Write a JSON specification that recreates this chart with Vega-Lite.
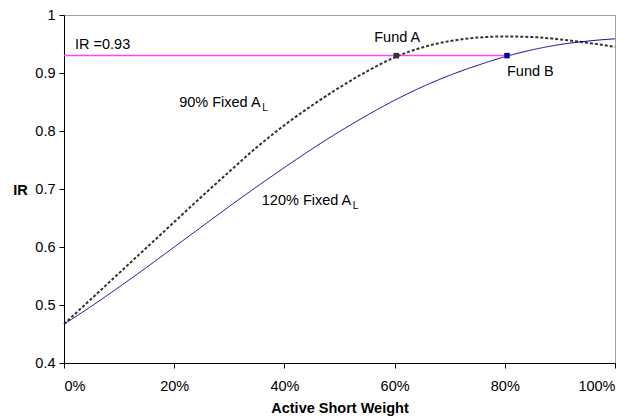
{
  "$schema": "https://vega.github.io/schema/vega-lite/v6.json",
  "autosize": "none",
  "width": 551,
  "height": 348,
  "padding": {"left": 64, "top": 15, "right": 19, "bottom": 54},
  "background": "white",
  "config": {
    "font": "Liberation Sans",
    "view": {"stroke": "#a0a0a0", "strokeWidth": 1},
    "axis": {"grid": false, "domainColor": "#000", "tickColor": "#000", "labelColor": "#000", "titleColor": "#000", "labelFont": "Liberation Sans", "titleFont": "Liberation Sans", "labelFontSize": 14.5, "titleFontSize": 14.5, "tickSize": 5, "labelPadding": 4}
  },
  "datasets": {
    "curves": [
      {"w": 0, "ir": 0.467, "s": "90"}, {"w": 0.05, "ir": 0.511, "s": "90"}, {"w": 0.10, "ir": 0.555, "s": "90"}, {"w": 0.15, "ir": 0.599, "s": "90"}, {"w": 0.20, "ir": 0.643, "s": "90"}, {"w": 0.25, "ir": 0.687, "s": "90"}, {"w": 0.30, "ir": 0.730, "s": "90"}, {"w": 0.35, "ir": 0.772, "s": "90"}, {"w": 0.40, "ir": 0.810, "s": "90"}, {"w": 0.45, "ir": 0.844, "s": "90"}, {"w": 0.50, "ir": 0.875, "s": "90"}, {"w": 0.55, "ir": 0.903, "s": "90"}, {"w": 0.60, "ir": 0.927, "s": "90"}, {"w": 0.65, "ir": 0.944, "s": "90"}, {"w": 0.70, "ir": 0.955, "s": "90"}, {"w": 0.75, "ir": 0.961, "s": "90"}, {"w": 0.80, "ir": 0.963, "s": "90"}, {"w": 0.85, "ir": 0.962, "s": "90"}, {"w": 0.90, "ir": 0.958, "s": "90"}, {"w": 0.95, "ir": 0.952, "s": "90"}, {"w": 1.0, "ir": 0.945, "s": "90"},
      {"w": 0, "ir": 0.467, "s": "120"}, {"w": 0.05, "ir": 0.498, "s": "120"}, {"w": 0.10, "ir": 0.531, "s": "120"}, {"w": 0.15, "ir": 0.565, "s": "120"}, {"w": 0.20, "ir": 0.600, "s": "120"}, {"w": 0.25, "ir": 0.635, "s": "120"}, {"w": 0.30, "ir": 0.670, "s": "120"}, {"w": 0.35, "ir": 0.704, "s": "120"}, {"w": 0.40, "ir": 0.737, "s": "120"}, {"w": 0.45, "ir": 0.769, "s": "120"}, {"w": 0.50, "ir": 0.799, "s": "120"}, {"w": 0.55, "ir": 0.827, "s": "120"}, {"w": 0.60, "ir": 0.853, "s": "120"}, {"w": 0.65, "ir": 0.876, "s": "120"}, {"w": 0.70, "ir": 0.896, "s": "120"}, {"w": 0.75, "ir": 0.913, "s": "120"}, {"w": 0.80, "ir": 0.928, "s": "120"}, {"w": 0.85, "ir": 0.940, "s": "120"}, {"w": 0.90, "ir": 0.949, "s": "120"}, {"w": 0.95, "ir": 0.955, "s": "120"}, {"w": 1.0, "ir": 0.959, "s": "120"}
    ],
    "hline": [{"w": 0, "ir": 0.93}, {"w": 0.804, "ir": 0.93}],
    "funds": [{"w": 0.603, "ir": 0.93, "c": "a"}, {"w": 0.804, "ir": 0.93, "c": "b"}],
    "labels": [
      {"w": 0.02, "ir": 0.948, "t": "IR =0.93"},
      {"w": 0.563, "ir": 0.961, "t": "Fund A"},
      {"w": 0.804, "ir": 0.902, "t": "Fund B"},
      {"w": 0.209, "ir": 0.848, "t": "90% Fixed A"},
      {"w": 0.359, "ir": 0.679, "t": "120% Fixed A"}
    ],
    "subs": [
      {"w": 0.360, "ir": 0.840, "t": "L"},
      {"w": 0.524, "ir": 0.671, "t": "L"}
    ]
  },
  "layer": [
    {
      "data": {"name": "hline"},
      "mark": {"type": "line", "color": "#ff44ff", "strokeWidth": 1.5},
      "encoding": {
        "x": {"field": "w", "type": "quantitative", "scale": {"domain": [0, 1]}, "axis": {"format": ".0%", "values": [0, 0.2, 0.4, 0.6, 0.8, 1], "title": "Active Short Weight", "titleFontWeight": "bold", "titlePadding": 9, "labelPadding": 11}},
        "y": {"field": "ir", "type": "quantitative", "scale": {"domain": [0.4, 1]}, "axis": {"format": ".1~f", "values": [0.4, 0.5, 0.6, 0.7, 0.8, 0.9, 1], "title": "IR", "titleFontWeight": "bold", "titleAngle": 0, "titleX": -44, "titleY": 175, "titleAlign": "center", "titleBaseline": "middle"}}
      }
    },
    {
      "data": {"name": "curves"},
      "mark": {"type": "line", "interpolate": "monotone"},
      "encoding": {
        "x": {"field": "w", "type": "quantitative"},
        "y": {"field": "ir", "type": "quantitative"},
        "detail": {"field": "s"},
        "color": {"field": "s", "type": "nominal", "scale": {"domain": ["90", "120"], "range": ["#333333", "#000099"]}, "legend": null},
        "strokeDash": {"field": "s", "type": "nominal", "scale": {"domain": ["90", "120"], "range": [[3, 2], [1, 0]]}, "legend": null},
        "strokeWidth": {"field": "s", "type": "nominal", "scale": {"domain": ["90", "120"], "range": [2, 1]}, "legend": null}
      }
    },
    {
      "data": {"name": "funds"},
      "mark": {"type": "square", "size": 30, "opacity": 1, "filled": true},
      "encoding": {
        "x": {"field": "w", "type": "quantitative"},
        "y": {"field": "ir", "type": "quantitative"},
        "color": {"field": "c", "type": "nominal", "scale": {"domain": ["a", "b"], "range": ["#000000", "#000080"]}, "legend": null}
      }
    },
    {
      "data": {"name": "labels"},
      "mark": {"type": "text", "fontSize": 14.5, "color": "#000", "baseline": "middle", "align": "left"},
      "encoding": {
        "x": {"field": "w", "type": "quantitative"},
        "y": {"field": "ir", "type": "quantitative"},
        "text": {"field": "t"}
      }
    },
    {
      "data": {"name": "subs"},
      "mark": {"type": "text", "fontSize": 10, "color": "#000", "baseline": "middle", "align": "left"},
      "encoding": {
        "x": {"field": "w", "type": "quantitative"},
        "y": {"field": "ir", "type": "quantitative"},
        "text": {"field": "t"}
      }
    }
  ]
}
